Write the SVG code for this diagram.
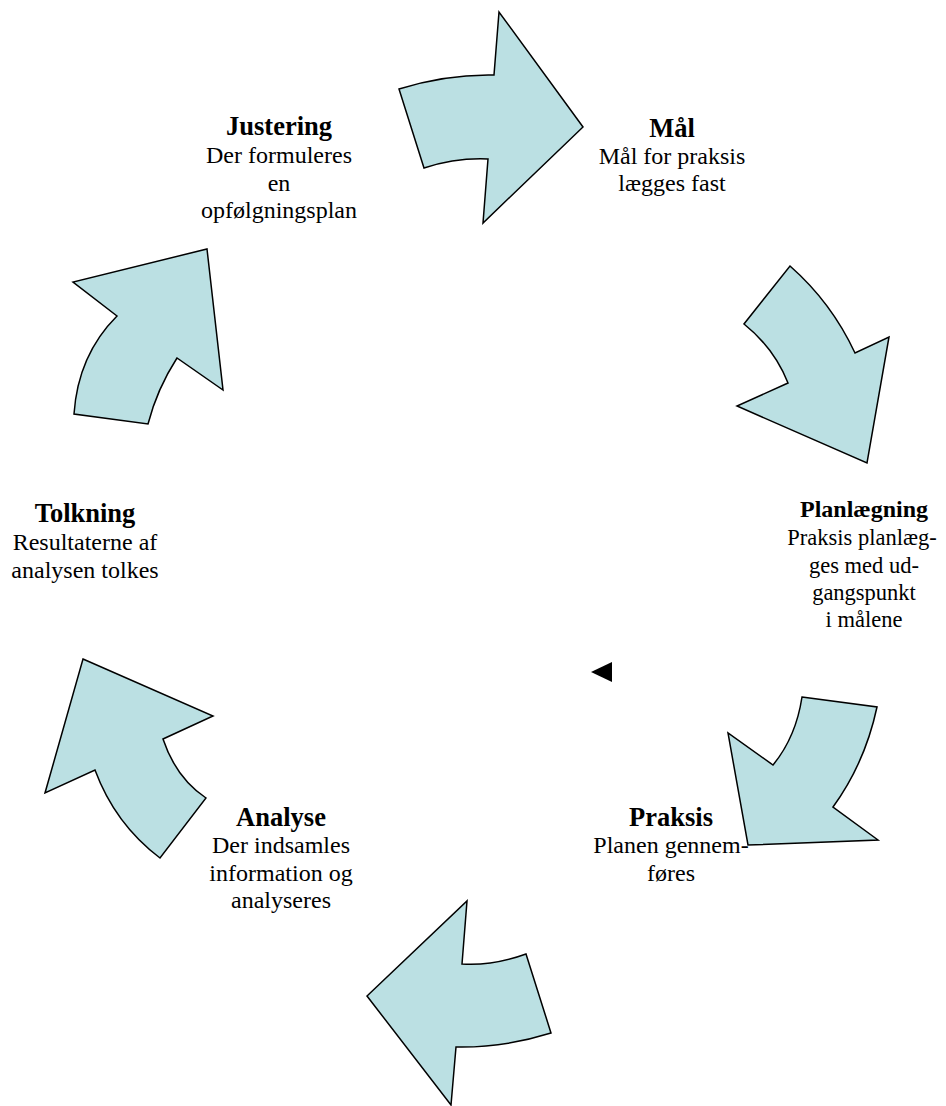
<svg xmlns="http://www.w3.org/2000/svg" width="946" height="1106" viewBox="0 0 946 1106">
<style>
.arrow{fill:#bbe0e3;stroke:#000;stroke-width:1.5;stroke-linejoin:miter}
text{font-family:"Liberation Serif","Times New Roman",serif;text-anchor:middle;fill:#000}
.t{font-weight:bold;font-size:26.5px}
.ts{font-weight:bold;font-size:24px}
.b{font-size:24px}
.bs{font-size:22.5px}
</style>
<rect width="946" height="1106" fill="#fff"/>
<g id="connectors">
<path id="arrow-maal" class="arrow" d="M399,89 Q447,74 494,75 L499,12 L583,127 L483,223 L488,159 Q456,157.6 424,168 Z"/>
<path id="arrow-planlaegning" class="arrow" d="M790,266 Q831.5,302.5 855,353 L889,337 L867,463 L737,406 L788,383 Q774,348 744,324 Z"/>
<path id="arrow-praksis" class="arrow" d="M802,697 L877,707 Q865,763 833,807 L878,840 L748,845 L728,733 L773,765 Q796,737 802,697 Z"/>
<path id="arrow-analyse" class="arrow" d="M467,901 L462,964 Q493,966 526,954 L551,1033 Q503,1048 456,1047 L451,1105 L367,996 Z"/>
<path id="arrow-tolkning" class="arrow" d="M83,659 L213,716 L163,739 Q176,778 206,798 L160,858 Q115,824 95,770 L45,793 Z"/>
<path id="arrow-justering" class="arrow" d="M207,249 L223,390 L177,358 Q157,389 148,424 L74,414 Q78,355 117,316 L73,282 Z"/>
<polygon id="marker" points="591,672 612,662 612,682" fill="#000"/>
</g>
<g id="node-maal">
<text x="672" y="137" class="t">Mål</text>
<text x="672" y="164" class="b">Mål for praksis</text>
<text x="672" y="191" class="b">lægges fast</text>
</g>
<g id="node-planlaegning">
<text x="864" y="517" class="ts">Planlægning</text>
<text x="862" y="545" class="bs">Praksis planlæg-</text>
<text x="864" y="573" class="bs">ges med ud-</text>
<text x="864" y="600" class="bs">gangspunkt</text>
<text x="864" y="627" class="bs">i målene</text>
</g>
<g id="node-praksis">
<text x="671" y="826" class="t">Praksis</text>
<text x="671" y="853" class="b">Planen gennem-</text>
<text x="671" y="881" class="b">føres</text>
</g>
<g id="node-analyse">
<text x="281" y="826" class="t">Analyse</text>
<text x="281" y="853" class="b">Der indsamles</text>
<text x="281" y="881" class="b">information og</text>
<text x="281" y="908" class="b">analyseres</text>
</g>
<g id="node-tolkning">
<text x="85" y="522" class="t">Tolkning</text>
<text x="85" y="550" class="b">Resultaterne af</text>
<text x="85" y="578" class="b">analysen tolkes</text>
</g>
<g id="node-justering">
<text x="279" y="135" class="t">Justering</text>
<text x="279" y="163" class="b">Der formuleres</text>
<text x="279" y="191" class="b">en</text>
<text x="279" y="218" class="b">opfølgningsplan</text>
</g>
</svg>
